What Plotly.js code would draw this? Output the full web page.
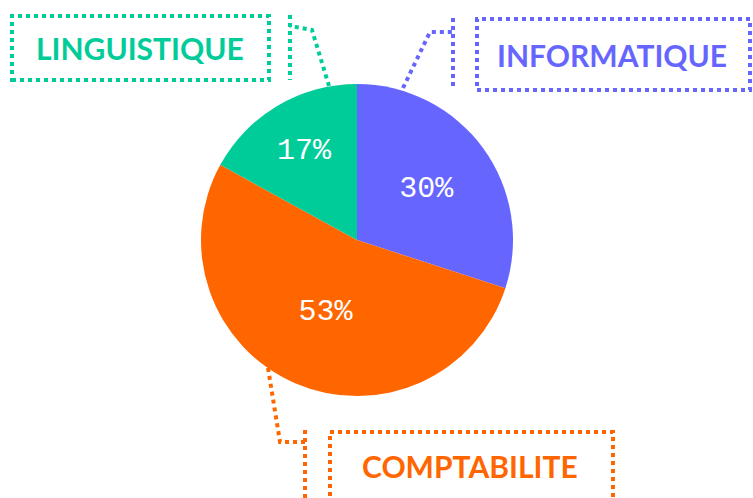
<!DOCTYPE html>
<html>
<head>
<meta charset="utf-8">
<script src="https://cdn.plot.ly/plotly-3.0.1.min.js"></script>
<style>html,body{margin:0;padding:0;background:#fff;}#chart{width:753px;height:498px;}</style>
</head>
<body>
<div id="chart"></div>
<script>
const categories = ["INFORMATIQUE", "COMPTABILITE", "LINGUISTIQUE"];
const values = [30, 53, 17];
const colors = ["#6666FF", "#FF6600", "#00CC99"];

const W = 753, H = 498;
const px = x => x / W;
const py = y => 1 - y / H;

// label boxes (pixel layout)
const boxes = [
  {x0: 477, y0: 19, x1: 750, y1: 90},
  {x0: 330, y0: 432, x1: 613, y1: 502},
  {x0: 12, y0: 16, x1: 269, y1: 80}
];
const connectors = [
  [[403, 88], [430, 32], [453, 32], [453, 18], [453, 90]],
  [[268, 368], [280, 442], [305, 442], [305, 430], [305, 498]],
  [[329, 86], [312, 30], [290, 26], [290, 15], [290, 80]]
];
const labelCenters = [[612, 55], [470, 466], [140, 48]];

const shapes = [];
const annotations = [];
categories.forEach((c, i) => {
  const b = boxes[i];
  shapes.push({type: "rect", xref: "paper", yref: "paper",
    x0: px(b.x0), x1: px(b.x1), y0: py(b.y1), y1: py(b.y0),
    line: {color: colors[i], width: 4, dash: "dot"}, fillcolor: "rgba(0,0,0,0)"});
  const p = connectors[i];
  const d = "M" + px(p[0][0]) + "," + py(p[0][1]) + " L" + px(p[1][0]) + "," + py(p[1][1]) +
            " L" + px(p[2][0]) + "," + py(p[2][1]) +
            " M" + px(p[3][0]) + "," + py(p[3][1]) + " L" + px(p[4][0]) + "," + py(p[4][1]);
  shapes.push({type: "path", xref: "paper", yref: "paper", path: d,
    line: {color: colors[i], width: 4, dash: "dot"}});
  annotations.push({xref: "paper", yref: "paper",
    x: px(labelCenters[i][0]), y: py(labelCenters[i][1]),
    xanchor: "center", yanchor: "middle",
    text: "<b>" + c + "</b>", showarrow: false,
    font: {family: "Lato, 'Open Sans', sans-serif", size: 30, color: colors[i]}});
});

const cx = 357, cy = 240, r = 156;
const data = [{
  type: "pie",
  labels: categories,
  values: values,
  marker: {colors: colors, line: {width: 0}},
  sort: false,
  direction: "clockwise",
  rotation: 0,
  textinfo: "percent",
  textposition: "inside",
  insidetextorientation: "horizontal",
  texttemplate: "%{percent:.0%}",
  insidetextfont: {family: "'Liberation Mono', 'DejaVu Sans Mono', monospace", size: 30, color: "#ffffff"},
  hoverinfo: "none",
  domain: {x: [px(cx - r), px(cx + r)], y: [py(cy + r), py(cy - r)]},
  showlegend: false
}];

const layout = {
  width: W, height: H,
  margin: {l: 0, r: 0, t: 0, b: 0},
  paper_bgcolor: "#ffffff",
  plot_bgcolor: "#ffffff",
  showlegend: false,
  shapes: shapes,
  annotations: annotations
};

Plotly.newPlot("chart", data, layout, {displayModeBar: false, staticPlot: true});
</script>
</body>
</html>
